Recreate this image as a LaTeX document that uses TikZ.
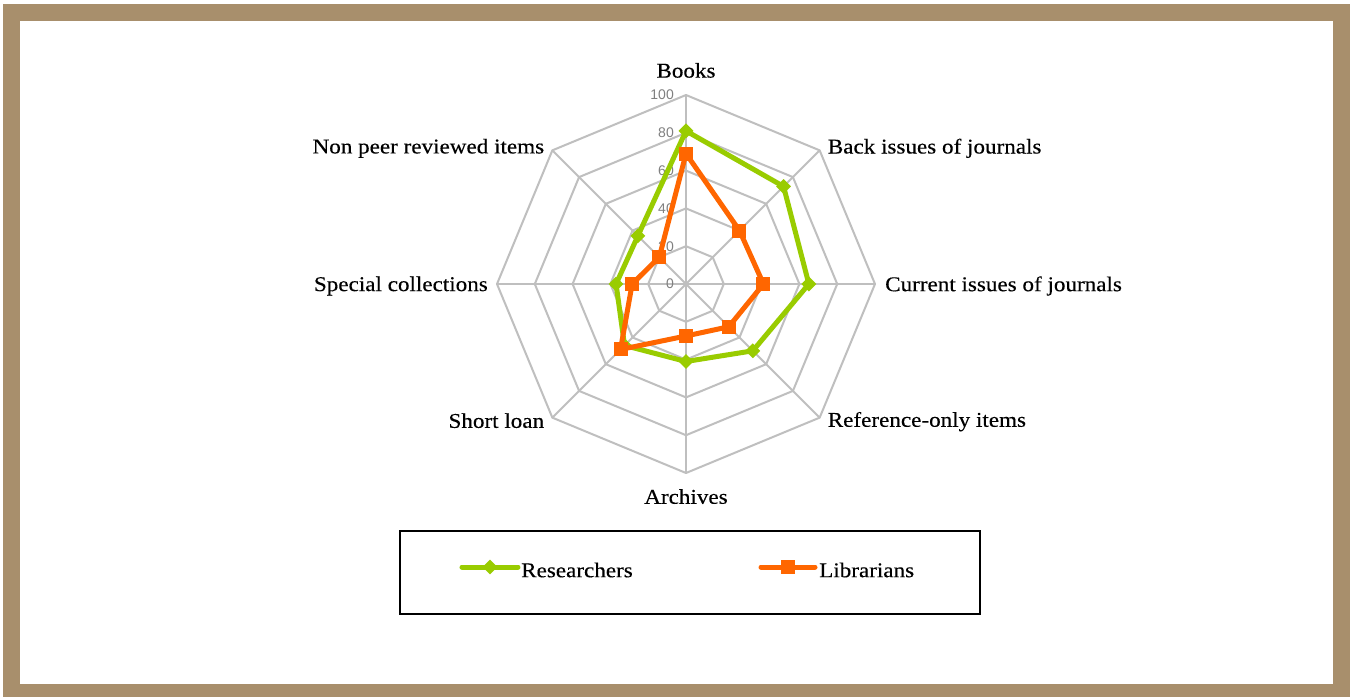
\documentclass[tikz,border=0pt]{standalone}
\usepackage{fontspec}
\setmainfont{Liberation Serif}[FakeStretch=1.1, FakeBold=0.3]
\newfontfamily\tickfont{Liberation Sans}
\usepackage{xcolor}
\definecolor{frame}{RGB}{168,143,108}
\definecolor{web}{RGB}{191,191,191}
\definecolor{researcher}{RGB}{153,204,0}
\definecolor{librarian}{RGB}{255,102,0}
\definecolor{ticktext}{RGB}{128,128,128}
\usetikzlibrary{positioning, calc, shapes.geometric}
\tikzstyle{Web} = [draw=web, line width=2pt, line join=round]
\tikzstyle{Label} = [font=\fontsize{21}{24}\selectfont, inner sep=0pt]
\tikzstyle{Tick} = [font=\tickfont\fontsize{14}{16}\selectfont,
text=ticktext, inner sep=0pt, anchor=east]
\tikzstyle{ResLine} = [draw=researcher, line width=5pt, line join=round]
\tikzstyle{LibLine} = [draw=librarian, line width=5pt, line join=round]
\tikzstyle{ResMark} = [diamond, fill=researcher, inner sep=0pt, minimum size=15pt]
\tikzstyle{LibMark} = [rectangle, fill=librarian, inner sep=0pt, minimum size=14pt]

\begin{document}
\begin{tikzpicture}[x=1pt, y=1pt]
    % frame
    \fill[frame] (-683,-413) rectangle (664,280);
    \fill[white] (-666,-400) rectangle (647,263);
    \useasboundingbox (-686,-413) rectangle (670,284);

    % axes ends
    \foreach \i/\ang in {1/90,2/45,3/0,4/-45,5/-90,6/-135,7/180,8/135}
        \coordinate (a\i) at (\ang:189);
    \coordinate (o) at (0,0);

    % web
    \foreach \k in {1,...,5}
        \draw[Web] (90:{\k*37.8}) -- (45:{\k*37.8}) -- (0:{\k*37.8})
            -- (-45:{\k*37.8}) -- (-90:{\k*37.8}) -- (-135:{\k*37.8})
            -- (180:{\k*37.8}) -- (135:{\k*37.8}) -- cycle;
    \foreach \i in {1,...,8}
        \draw[Web] (o) -- (a\i);
    \foreach \v in {0,20,...,100}
        \node[Tick] (t\v) at (-12,{\v*1.89}) {\v};

    % axis labels
    \node[Label, above=17pt of a1] (books) {Books};
    \node[Label, right=8pt of a2, yshift=2pt] (back) {Back issues of journals};
    \node[Label, right=10pt of a3, yshift=-2pt] (current) {Current issues of journals};
    \node[Label, right=8pt of a4, yshift=-4pt] (reference) {Reference-only items};
    \node[Label, below=16pt of a5] (archives) {Archives};
    \node[Label, left=8pt of a6, yshift=-3pt] (short) {Short loan};
    \node[Label, left=9pt of a7, yshift=-2pt] (special) {Special collections};
    \node[Label, left=8pt of a8, yshift=2pt] (nonpeer) {Non peer reviewed items};

    % researchers
    \foreach \i/\ang/\v in {1/90/81,2/45/73,3/0/65,4/-45/50,5/-90/41,6/-135/46,7/180/37,8/135/36}
        \coordinate (r\i) at (\ang:{\v*1.89});
    \draw[ResLine] (r1) -- (r2) -- (r3) -- (r4) -- (r5) -- (r6) -- (r7) -- (r8) -- cycle;
    \foreach \i in {1,...,8}
        \node[ResMark] (rm\i) at (r\i) {};

    % librarians
    \foreach \i/\ang/\v in {1/90/69,2/45/40,3/0/41,4/-45/32,5/-90/27.5,6/-135/49,7/180/28.5,8/135/20}
        \coordinate (l\i) at (\ang:{\v*1.89});
    \draw[LibLine] (l1) -- (l2) -- (l3) -- (l4) -- (l5) -- (l6) -- (l7) -- (l8) -- cycle;
    \foreach \i in {1,...,8}
        \node[LibMark] (lm\i) at (l\i) {};

    % legend
    \node[draw, line width=2pt, minimum width=580pt, minimum height=83pt] (legend) at (4,-288.5) {};
    \coordinate (resA) at (-224,-283);
    \coordinate (resB) at (-168,-283);
    \draw[ResLine, line cap=round] (resA) -- (resB);
    \node[ResMark] (reskey) at ($(resA)!0.5!(resB)$) {};
    \node[Label, right=3pt of resB, yshift=-3pt] (restext) {Researchers};
    \coordinate (libA) at (75,-283);
    \coordinate (libB) at (129,-283);
    \draw[LibLine, line cap=round] (libA) -- (libB);
    \node[LibMark] (libkey) at ($(libA)!0.5!(libB)$) {};
    \node[Label, right=4pt of libB, yshift=-3pt] (libtext) {Librarians};
\end{tikzpicture}
\end{document}
